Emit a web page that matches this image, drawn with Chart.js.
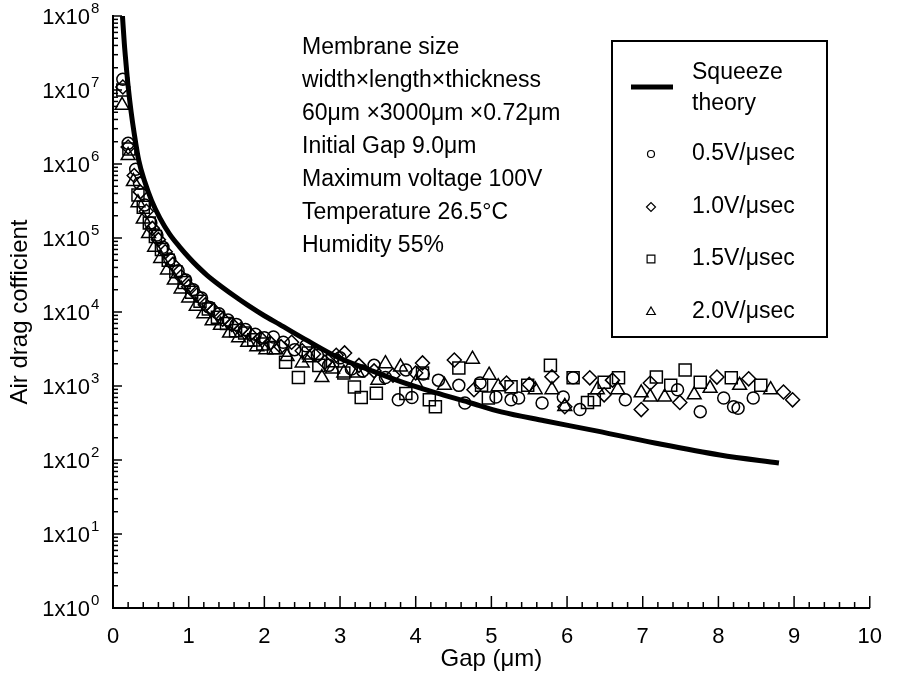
<!DOCTYPE html>
<html>
<head>
<meta charset="utf-8">
<script src="https://cdn.jsdelivr.net/npm/chart.js@4.4.1/dist/chart.umd.min.js"></script>
<style>
html, body { margin: 0; padding: 0; background: #fff; }
#wrap { width: 898px; height: 692px; position: relative; }
</style>
</head>
<body>
<div id="wrap"><canvas id="myChart"></canvas></div>
<script>
const FONT = "'Liberation Sans', Arial, sans-serif";
const INK = '#000';

const xTicks = [0, 1, 2, 3, 4, 5, 6, 7, 8, 9, 10];
const yExponents = [0, 1, 2, 3, 4, 5, 6, 7, 8];

const seriesLabels = ['0.5V/μsec', '1.0V/μsec', '1.5V/μsec', '2.0V/μsec'];
const seriesStyles = ['circle', 'rectRot', 'rect', 'triangle'];

const notes = [
    'Membrane size',
    'width×length×thickness',
    '60μm ×3000μm ×0.72μm',
    'Initial Gap 9.0μm',
    'Maximum voltage 100V',
    'Temperature 26.5°C',
    'Humidity 55%'
];

// squeeze film theory curve
const theoryGap = [0.125, 0.15, 0.17, 0.2, 0.24, 0.28, 0.34, 0.42, 0.51, 0.62, 0.75, 0.88, 1.0, 1.12, 1.24, 1.4, 1.6, 1.8, 2.0, 2.2, 2.54, 2.97, 3.41, 3.83, 4.26, 4.7, 5.13, 5.7, 6.3, 7.16, 8.02, 8.8];
const theoryDrag = [1e8, 4.2e7, 2.4e7, 1.12e7, 5e6, 2.6e6, 1.12e6, 5.75e5, 3.2e5, 1.86e5, 1.12e5, 7.6e4, 5.5e4, 4.1e4, 3.16e4, 2.34e4, 1.66e4, 1.2e4, 8.9e3, 6.8e3, 4.27e3, 2.45e3, 1.62e3, 1.12e3, 813, 603, 447, 339, 257, 170, 117, 91];

// measured, 0.5 V/usec
const gap05 = [0.13, 0.2, 0.3, 0.35, 0.42, 0.5, 0.58, 0.66, 0.75, 0.86, 0.96, 1.06, 1.17, 1.28, 1.4, 1.52, 1.63, 1.75, 1.88, 2.0, 2.12, 2.25, 2.4, 2.55, 2.7, 2.85, 3.0, 3.15, 3.3, 3.45, 3.6, 3.77, 3.87, 3.95, 4.1, 4.3, 4.57, 4.65, 4.85, 5.06, 5.26, 5.36, 5.67, 5.95, 6.08, 6.17, 6.77, 7.46, 7.76, 8.07, 8.2, 8.26, 8.46];
const drag05 = [1.4e7, 1.9e6, 8.5e5, 5.5e5, 2.8e5, 1.6e5, 1.1e5, 7.5e4, 5.2e4, 3.6e4, 2.7e4, 2e4, 1.55e4, 1.15e4, 9.5e3, 7.8e3, 6.8e3, 5.8e3, 5e3, 4.5e3, 4.6e3, 3.9e3, 3.1e3, 3.5e3, 2.6e3, 1.9e3, 2.4e3, 1.7e3, 1.6e3, 1.9e3, 1.3e3, 650, 1650, 700, 1450, 1200, 1020, 590, 1100, 710, 650, 690, 590, 710, 1290, 480, 650, 890, 450, 690, 525, 500, 690];

// measured, 1.0 V/usec
const gap10 = [0.13, 0.2, 0.28, 0.36, 0.44, 0.52, 0.6, 0.69, 0.79, 0.9, 1.0, 1.11, 1.22, 1.33, 1.45, 1.57, 1.69, 1.81, 1.95, 2.08, 2.22, 2.36, 2.5, 2.65, 2.8, 2.95, 3.06, 3.25, 3.45, 3.7, 4.09, 4.0, 4.51, 4.77, 5.2, 5.5, 5.8, 5.97, 6.3, 6.49, 6.6, 6.98, 7.1, 7.49, 7.98, 8.4, 8.86, 8.98];
const drag10 = [1.1e7, 1.7e6, 7e5, 4.2e5, 2.3e5, 1.35e5, 9.5e4, 6.5e4, 4.4e4, 3e4, 2.2e4, 1.7e4, 1.25e4, 1.05e4, 8e3, 6.8e3, 5.8e3, 5e3, 4.4e3, 3.8e3, 3.4e3, 3.9e3, 3e3, 2.7e3, 2.1e3, 2.6e3, 2.8e3, 1.9e3, 1.6e3, 1.4e3, 2050, 1500, 2250, 890, 1100, 1050, 1330, 525, 1290, 760, 1200, 480, 1100, 600, 1320, 1250, 830, 650];

// measured, 1.5 V/usec
const gap15 = [0.13, 0.21, 0.33, 0.4, 0.48, 0.56, 0.64, 0.73, 0.83, 0.94, 1.04, 1.15, 1.26, 1.38, 1.5, 1.62, 1.74, 1.86, 1.98, 2.12, 2.28, 2.45, 2.58, 2.72, 2.9, 3.05, 3.19, 3.28, 3.48, 3.87, 4.09, 4.18, 4.26, 4.57, 4.87, 4.96, 5.26, 5.48, 5.78, 6.08, 6.27, 6.36, 6.49, 6.68, 7.18, 7.37, 7.56, 7.76, 8.17, 8.56];
const drag15 = [1e7, 1.6e6, 3.8e5, 2.6e5, 1.6e5, 1.05e5, 7e4, 5e4, 3.5e4, 2.5e4, 1.85e4, 1.4e4, 1.1e4, 8.5e3, 7e3, 5.6e3, 5.2e3, 4.2e3, 3.7e3, 3.3e3, 2.1e3, 1.3e3, 2.8e3, 1.9e3, 2.2e3, 1.5e3, 970, 700, 800, 790, 1500, 650, 525, 1750, 1020, 690, 980, 1020, 1900, 1290, 600, 650, 1120, 1290, 1320, 1020, 1650, 1120, 1290, 1020];

// measured, 2.0 V/usec
const gap20 = [0.12, 0.2, 0.27, 0.33, 0.4, 0.47, 0.55, 0.63, 0.72, 0.81, 0.9, 1.0, 1.1, 1.2, 1.31, 1.42, 1.54, 1.66, 1.78, 1.9, 2.02, 2.15, 2.3, 2.5, 2.6, 2.76, 2.9, 3.05, 3.23, 3.5, 3.6, 3.8, 4.0, 4.38, 4.75, 4.97, 5.09, 5.58, 5.8, 5.97, 6.4, 6.67, 6.98, 7.1, 7.29, 7.68, 7.89, 8.28, 8.69];
const drag20 = [6.2e6, 1.3e6, 5.8e5, 3e5, 1.8e5, 1.15e5, 7.5e4, 5.3e4, 3.7e4, 2.7e4, 2.05e4, 1.55e4, 1.2e4, 9.5e3, 7.6e3, 6.6e3, 5.2e3, 4.5e3, 3.9e3, 3.4e3, 3.1e3, 3.1e3, 2.5e3, 2.05e3, 2.4e3, 1.3e3, 1.7e3, 1.5e3, 1.5e3, 1.2e3, 2e3, 1.8e3, 1.1e3, 1020, 2300, 1400, 980, 890, 890, 530, 890, 890, 810, 710, 710, 760, 930, 1020, 890];

const toPoints = (xs, ys) => xs.map((x, i) => ({ x, y: ys[i] }));

const measured = [
    [gap05, drag05, 6],
    [gap10, drag10, 7],
    [gap15, drag15, 8.5],
    [gap20, drag20, 8],
];

const markerSets = measured.map(([xs, ys, r], i) => ({
    label: seriesLabels[i],
    data: toPoints(xs, ys),
    showLine: false,
    pointStyle: seriesStyles[i],
    pointRadius: r,
    pointHoverRadius: r,
    pointBorderWidth: 1.5,
    pointBorderColor: INK,
    pointBackgroundColor: 'rgba(0,0,0,0)',
    order: 1,
}));

const decor = {
    id: 'decor',
    afterDraw(chart) {
        const { ctx, chartArea: a, scales: { x, y } } = chart;
        ctx.save();
        ctx.strokeStyle = INK;
        ctx.fillStyle = INK;

        // ticks point inwards on both axes
        ctx.lineWidth = 1.5;
        for (let i = 0; i <= 50; i++) {
            const px = x.getPixelForValue(i / 5);
            const len = i % 5 === 0 ? 12 : 6;
            ctx.beginPath();
            ctx.moveTo(px, a.bottom);
            ctx.lineTo(px, a.bottom - len);
            ctx.stroke();
        }
        yExponents.forEach(e => {
            for (let m = 1; m <= 9; m++) {
                if (e === 8 && m > 1) break;
                const py = y.getPixelForValue(m * Math.pow(10, e));
                const len = m === 1 ? 9 : 5;
                ctx.beginPath();
                ctx.moveTo(a.left, py);
                ctx.lineTo(a.left + len, py);
                ctx.stroke();
            }
        });

        // 1x10^n labels
        yExponents.forEach(e => {
            const py = y.getPixelForValue(Math.pow(10, e));
            ctx.font = `22px ${FONT}`;
            ctx.textAlign = 'right';
            ctx.textBaseline = 'middle';
            ctx.fillText('1x10', 90, py + 2);
            ctx.font = `15px ${FONT}`;
            ctx.textAlign = 'left';
            ctx.fillText(String(e), 91, py - 7);
        });

        // y title
        ctx.save();
        ctx.translate(20, (a.top + a.bottom) / 2);
        ctx.rotate(-Math.PI / 2);
        ctx.font = `24px ${FONT}`;
        ctx.textAlign = 'center';
        ctx.textBaseline = 'middle';
        ctx.fillText('Air drag cofficient', 0, 0);
        ctx.restore();

        // measurement conditions
        ctx.font = `23px ${FONT}`;
        ctx.textAlign = 'left';
        ctx.textBaseline = 'middle';
        notes.forEach((t, i) => ctx.fillText(t, 302, 48 + i * 33));

        // legend box
        ctx.lineWidth = 2;
        ctx.strokeRect(612, 41, 215, 296);
        ctx.lineWidth = 5;
        ctx.beginPath();
        ctx.moveTo(631, 87);
        ctx.lineTo(673, 87);
        ctx.stroke();
        ctx.fillText('Squeeze', 692, 73);
        ctx.fillText('theory', 692, 104);
        const rows = [154, 207, 259, 312];
        const legR = [3.5, 4.5, 5.5, 5];
        seriesLabels.forEach((lab, i) => {
            ctx.lineWidth = 1.2;
            ctx.fillStyle = 'rgba(0,0,0,0)';
            Chart.helpers.drawPoint(ctx, { pointStyle: seriesStyles[i], radius: legR[i], borderWidth: 1.2, rotation: 0 }, 651, rows[i]);
            ctx.fillStyle = INK;
            ctx.fillText(lab, 692, rows[i]);
        });

        ctx.restore();
    }
};

new Chart(document.getElementById('myChart'), {
    type: 'scatter',
    data: {
        datasets: [
            {
                label: 'Squeeze theory',
                type: 'line',
                data: toPoints(theoryGap, theoryDrag),
                borderColor: INK,
                borderWidth: 5,
                pointRadius: 0,
                fill: false,
                cubicInterpolationMode: 'monotone',
                order: 0,
            },
            ...markerSets,
        ]
    },
    options: {
        responsive: true,
        maintainAspectRatio: false,
        animation: false,
        layout: { padding: { top: 16, right: 14, bottom: 0, left: 0 } },
        plugins: {
            legend: { display: false },
            tooltip: { enabled: false },
        },
        scales: {
            x: {
                type: 'linear',
                min: 0,
                max: 10,
                afterBuildTicks: s => { s.ticks = xTicks.map(v => ({ value: v })); },
                afterFit: s => { s.height = 84; },
                ticks: {
                    color: INK,
                    font: { family: FONT, size: 22 },
                    padding: 16,
                    maxRotation: 0,
                    autoSkip: false,
                },
                grid: { display: false, drawTicks: false },
                border: { color: INK, width: 2 },
                title: {
                    display: true,
                    text: 'Gap (μm)',
                    color: INK,
                    font: { family: FONT, size: 24 },
                    padding: { top: 0, bottom: 18 },
                },
            },
            y: {
                type: 'logarithmic',
                min: 1,
                max: 1e8,
                afterFit: s => { s.width = 113; },
                ticks: { display: false },
                grid: { display: false, drawTicks: false },
                border: { color: INK, width: 2 },
            }
        }
    },
    plugins: [decor]
});
</script>
</body>
</html>
